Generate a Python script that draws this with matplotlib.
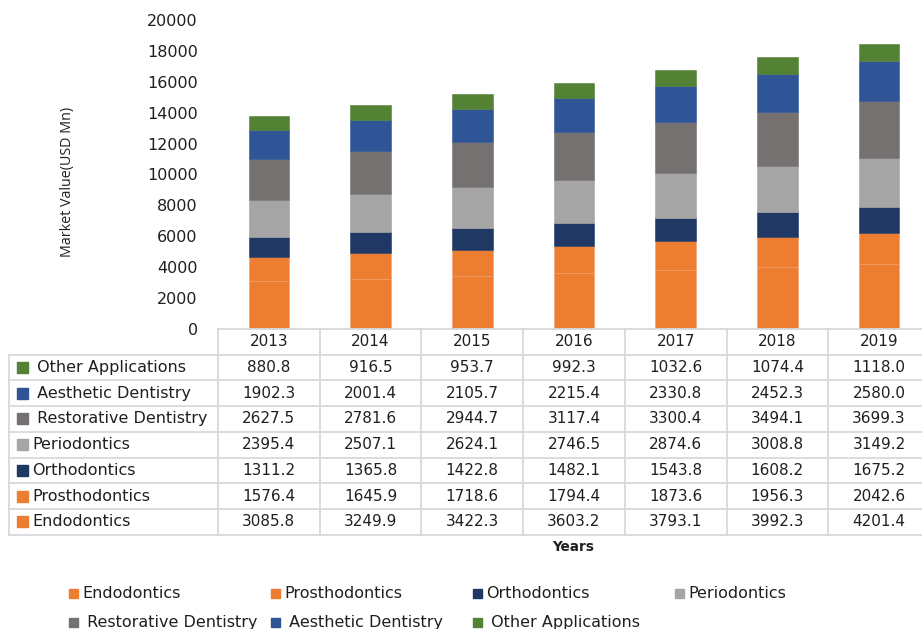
import matplotlib
matplotlib.use("Agg")
import matplotlib.pyplot as plt
from matplotlib.patches import Rectangle
from matplotlib.lines import Line2D
import numpy as np

years = ["2013", "2014", "2015", "2016", "2017", "2018", "2019"]
endodontics = [3085.8, 3249.9, 3422.3, 3603.2, 3793.1, 3992.3, 4201.4]
prosthodontics = [1576.4, 1645.9, 1718.6, 1794.4, 1873.6, 1956.3, 2042.6]
orthodontics = [1311.2, 1365.8, 1422.8, 1482.1, 1543.8, 1608.2, 1675.2]
periodontics = [2395.4, 2507.1, 2624.1, 2746.5, 2874.6, 3008.8, 3149.2]
restorative = [2627.5, 2781.6, 2944.7, 3117.4, 3300.4, 3494.1, 3699.3]
aesthetic = [1902.3, 2001.4, 2105.7, 2215.4, 2330.8, 2452.3, 2580.0]
other = [880.8, 916.5, 953.7, 992.3, 1032.6, 1074.4, 1118.0]

series_names = ["Endodontics", "Prosthodontics", "Orthodontics", "Periodontics",
                "Restorative Dentistry", "Aesthetic Dentistry", "Other Applications"]
series_values = [endodontics, prosthodontics, orthodontics, periodontics,
                 restorative, aesthetic, other]
colors = ["#ED7D31", "#ED7D31", "#203864", "#A5A5A5", "#767171", "#2F5597", "#548235"]
# leading space used by some labels in the reference
label_prefix = ["", "", "", "", " ", " ", " "]

yticks = [0, 2000, 4000, 6000, 8000, 10000, 12000, 14000, 16000, 18000, 20000]

W, H = 922, 629
fig = plt.figure(figsize=(W / 100, H / 100), dpi=100)

def fx(x):
    return x / W

def fy(y):
    return 1 - y / H

TXT = "#1f1f1f"
GRID = "#D9D9D9"
FONT = "DejaVu Sans"

# chart area aligned with the table columns
col_left = 218
col_w = 101.7
n = len(years)
ax_left = col_left
ax_right = col_left + col_w * n
ax_top, ax_bottom = 20, 329
ax = fig.add_axes([fx(ax_left), fy(ax_bottom), (ax_right - ax_left) / W, (ax_bottom - ax_top) / H])
x = np.arange(n)
bottom = np.zeros(n)
for name, vals, c in zip(series_names, series_values, colors):
    ax.bar(x, vals, width=0.4, bottom=bottom, color=c,
           edgecolor="#F3A26C" if c == "#ED7D31" else c, linewidth=0.4, label=name)
    bottom += np.array(vals)
ax.set_xlim(-0.5, n - 0.5)
ax.set_ylim(0, 20000)
ax.set_yticks(yticks)
ax.set_yticklabels([str(t) for t in yticks], fontsize=11.5, color=TXT, family=FONT)
ax.tick_params(axis="y", length=0, pad=14.5)
ax.set_xticks([])
for s in ax.spines.values():
    s.set_visible(False)
ax.patch.set_alpha(0)

fig.text(fx(68), fy(182), "Market Value(USD Mn)", rotation=90, ha="center", va="center",
         fontsize=10.3, color=TXT, family="Open Sans")

# ---- data table ----
tab_top = 329
row_h = 25.7
label_left = 9
n_rows = len(series_names)
tab_bottom = tab_top + row_h * (n_rows + 1)
lw = 1.3

def hline(y, x0, x1):
    fig.add_artist(Line2D([fx(x0), fx(x1)], [fy(y), fy(y)], color=GRID, lw=lw))

def vline(xp, y0, y1):
    fig.add_artist(Line2D([fx(xp), fx(xp)], [fy(y0), fy(y1)], color=GRID, lw=lw))

hline(tab_top, col_left, ax_right + 5)
for r in range(1, n_rows + 2):
    hline(tab_top + row_h * r, label_left, ax_right + 5)
vline(label_left, tab_top + row_h, tab_bottom)
for c in range(n + 1):
    vline(col_left + col_w * c, tab_top, tab_bottom)

# header
for i, yr in enumerate(years):
    fig.text(fx(col_left + col_w * (i + 0.5)), fy(tab_top + row_h * 0.5), yr,
             ha="center", va="center", fontsize=11, color=TXT, family=FONT)

# rows (top row = last series)
for r in range(n_rows):
    si = n_rows - 1 - r
    yc = tab_top + row_h * (r + 1.5)
    fig.add_artist(Rectangle((fx(17), fy(yc + 5.5)), 11 / W, 11 / H, color=colors[si],
                             transform=fig.transFigure))
    fig.text(fx(32), fy(yc), label_prefix[si] + series_names[si], ha="left", va="center",
             fontsize=11.5, color=TXT, family=FONT)
    for i in range(n):
        fig.text(fx(col_left + col_w * (i + 0.5)), fy(yc), f"{series_values[si][i]:.1f}",
                 ha="center", va="center", fontsize=11, color=TXT, family=FONT)

fig.text(fx(573), fy(547), "Years", ha="center", va="center", fontsize=9.8,
         color=TXT, family=FONT, weight="bold")

# ---- legend ----
leg_pos = [(70, 593), (272, 593), (474, 593), (676, 593),
           (70, 622), (272, 622), (474, 622)]
for (lx, ly), name, c, pre in zip(leg_pos, series_names, colors, label_prefix):
    fig.add_artist(Rectangle((fx(lx - 1), fy(ly + 4.5)), 9 / W, 9 / H, color=c,
                             transform=fig.transFigure))
    fig.text(fx(lx + 12), fy(ly), pre + name, ha="left", va="center", fontsize=11.5,
             color=TXT, family=FONT)

fig.savefig("out.png", dpi=100)
